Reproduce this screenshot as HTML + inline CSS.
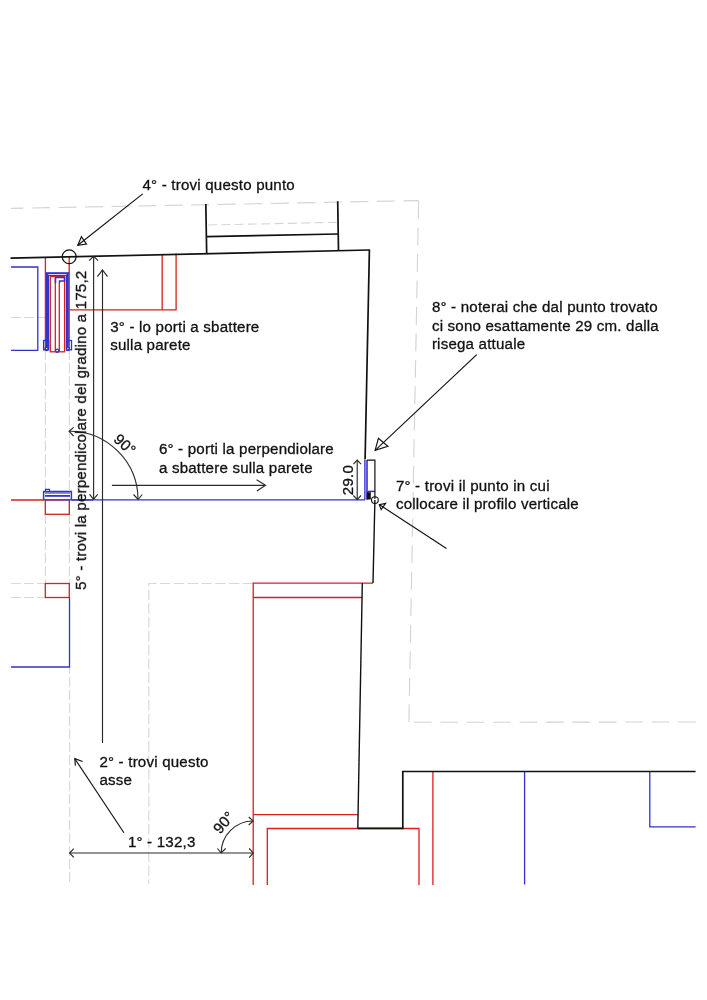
<!DOCTYPE html>
<html><head><meta charset="utf-8">
<style>
html,body{margin:0;padding:0;background:#fff;}
svg{display:block;}
text{font-family:"Liberation Sans",sans-serif;font-size:15.1px;letter-spacing:0.2px;fill:#111;stroke:#111;stroke-width:0.3px;}
</style></head>
<body>
<svg width="707" height="1000" viewBox="0 0 707 1000">
<rect width="707" height="1000" fill="#fff"/>
<!-- gray dashed -->
<g fill="none" stroke="#d3d3d3" stroke-width="1.1">
  <line x1="11" y1="208.4" x2="418.6" y2="200.6" stroke-dasharray="18 8.55" stroke-dashoffset="5.7"/>
  <line x1="408.9" y1="722.3" x2="418.6" y2="200.6" stroke-dasharray="18 8.5"/>
  <line x1="695.6" y1="722" x2="408.9" y2="722.3" stroke-dasharray="17.6 8.8"/>
  <line x1="207" y1="225" x2="338" y2="222.3" stroke-dasharray="9 4.3" stroke-dashoffset="12.3" stroke="#d6d6d6"/>
</g>
<g fill="none" stroke="#d8d8d8" stroke-width="1.1" stroke-dasharray="10 3">
  <line x1="11" y1="317.5" x2="45" y2="317.5"/>
  <line x1="45.4" y1="350" x2="45.4" y2="491"/>
  <line x1="69.4" y1="350" x2="69.4" y2="491"/>
  <line x1="45.4" y1="514" x2="45.4" y2="583.5"/>
  <line x1="69.4" y1="514" x2="69.4" y2="583.5"/>
  <line x1="11" y1="583.5" x2="45.4" y2="583.5"/>
  <line x1="11" y1="597.5" x2="45.4" y2="597.5"/>
  <line x1="69.6" y1="667" x2="69.6" y2="884" stroke-dashoffset="3"/>
  <polyline points="253.2,583.5 148.8,583.5 148.8,884" stroke-dasharray="10.5 3.3"/>
</g>
<!-- red -->
<g fill="none" stroke="#d61f1f" stroke-width="1.3">
  <line x1="45.4" y1="257.2" x2="45.4" y2="350"/>
  <line x1="69.2" y1="256.7" x2="69.2" y2="350"/>
  <polyline points="69.2,309.9 176.1,309.9 176.1,253.6"/>
  <line x1="162.2" y1="254" x2="162.2" y2="309.9"/>
  <rect x="50.3" y="276.5" width="14.3" height="75.3"/>
  <line x1="55.3" y1="278" x2="55.3" y2="351.5"/>
  <line x1="59.3" y1="283" x2="59.3" y2="351.5"/>
  <line x1="11" y1="500" x2="44" y2="500"/>
  <rect x="45.3" y="500" width="24" height="14.3"/>
  <rect x="45.3" y="583.5" width="24" height="14"/>
  <polyline points="253.2,885 253.2,583.2 373,583.2"/>
  <polyline points="253.2,597.5 362.2,597.5"/>
  <polyline points="253.2,814.6 358,814.6"/>
  <polyline points="267.3,885 267.3,828.5 419,828.5 419,885"/>
  <line x1="432.9" y1="771.2" x2="432.9" y2="885"/>
</g>
<!-- blue -->
<g fill="none" stroke="#3232cc" stroke-width="1.3">
  <polyline points="11,267 37.8,267 37.8,350.3 11,350.3"/>
  <line x1="44" y1="499.8" x2="365" y2="499.8"/>
  <polyline points="69.5,597.5 69.5,667 11,667"/>
  <line x1="524.6" y1="771.2" x2="524.6" y2="884.5"/>
  <polyline points="649.8,771.2 649.8,826.8 695.6,826.8"/>
  <!-- window -->
  <line x1="47.2" y1="273" x2="47.2" y2="348" stroke-width="2.4"/>
  <line x1="67.6" y1="273" x2="67.6" y2="348" stroke-width="2.4"/>
  <line x1="46" y1="273.2" x2="69" y2="273.2" stroke-width="2"/>
  <polyline points="48.5,348 48.5,275.5 66.5,275.5 66.5,348" stroke-width="1.2"/>
  <polyline points="55.5,283 55.5,277.5 64.5,277.5 64.5,281 59.5,281 59.5,283" stroke-width="1.5"/>
  <rect x="43.6" y="340.5" width="5" height="9.3" stroke-width="1.3"/>
  <rect x="66.5" y="340.5" width="5" height="9.3" stroke-width="1.3"/>
  <circle cx="46.5" cy="349" r="1.6" stroke-width="1.2"/>
  <circle cx="57.2" cy="350.8" r="1.6" stroke-width="1.2"/>
  <circle cx="68" cy="349" r="1.6" stroke-width="1.2"/>
  <!-- small left element -->
  <polyline points="43.6,500 43.6,491.5 71.4,491.5 71.4,500" stroke-width="1.5"/>
  <line x1="45" y1="493" x2="70" y2="493" stroke-width="1.1"/>
  <line x1="45" y1="495.9" x2="70" y2="495.9" stroke-width="1.8"/>
  <polyline points="45.5,491.5 45.5,489.3 49.5,489.3 49.5,491.5" stroke-width="1.2"/>
  <line x1="71.4" y1="500" x2="93" y2="500"/>
  <!-- profile element -->
  <line x1="364.9" y1="460" x2="364.9" y2="499.8" stroke-width="1.4"/>
  <line x1="367" y1="460" x2="367" y2="499.8" stroke-width="1.6"/>
  <line x1="367.5" y1="491.4" x2="375" y2="491.4" stroke-width="1.5"/>
</g>
<!-- black walls -->
<g fill="none" stroke="#111" stroke-width="1.7">
  <line x1="10.5" y1="258.2" x2="369.4" y2="250"/>
  <polyline points="369.4,249.6 365.1,459.5"/>
  <line x1="205.8" y1="204" x2="206.7" y2="254"/>
  <line x1="337.7" y1="201.2" x2="338.5" y2="250.5"/>
  <line x1="206.5" y1="236.7" x2="338" y2="234"/>
  <polyline points="357.8,828.4 402.8,828.4 402.8,771.5 695.6,771.5"/>
</g>
<g fill="none" stroke="#111" stroke-width="1.4">
  <line x1="374.9" y1="500" x2="373" y2="583"/>
  <line x1="362.3" y1="583" x2="357.8" y2="828.4"/>
</g>
<g fill="none" stroke="#111" stroke-width="1.2">
  <polyline points="367,460.2 374.9,460.2 374.9,499"/>
</g>
<rect x="366.8" y="492.2" width="4" height="7.3" fill="#111"/>
<!-- circles -->
<circle cx="69.2" cy="256.7" r="6.9" fill="none" stroke="#111" stroke-width="1.2"/>
<circle cx="374.9" cy="500.1" r="3.4" fill="none" stroke="#111" stroke-width="1.1"/>
<!-- arrows with open triangle heads -->
<g fill="none" stroke="#111" stroke-width="1.15" stroke-linejoin="miter">
  <line x1="142.7" y1="193.9" x2="77.8" y2="245.3"/>
  <polygon points="77.8,245.3 81.4,236.7 86.5,244.1"/>
  <line x1="476.7" y1="354.7" x2="375.1" y2="450.3"/>
  <polygon points="375.1,450.3 378.4,438.3 387.9,446.3"/>
  <line x1="446.5" y1="548.6" x2="379.3" y2="504.6"/>
  <polygon points="379.3,504.6 381.2,509.6 385.6,503.4"/>
  <line x1="123.9" y1="832.8" x2="74.8" y2="758.7"/>
  <polyline points="75.4,765.6 74.8,758.7 82.6,761.5"/>
</g>
<!-- dimension arrows (V heads) -->
<g fill="none" stroke="#2a2a2a" stroke-width="1.15">
  <line x1="102.5" y1="270" x2="102.5" y2="743"/>
  <line x1="93.6" y1="256.5" x2="93.6" y2="499.3"/>
  <polyline points="89.1,260.7 93.6,256.4 98.1,260.7"/>
  <polyline points="89.6,494.3 93.6,499.3 97.6,494.3"/>
  <polyline points="97.4,276.7 102.5,269.9 107.5,276.7"/>
  <!-- 6° arrow -->
  <line x1="111.9" y1="485.3" x2="265" y2="485.3"/>
  <polyline points="256.6,479.7 265.5,485.3 256.9,490.9"/>
  <!-- arc 90 top -->
  <path d="M69.5,431.2 A68.5,68.5 0 0 1 138,499.5"/>
  <polyline points="73.6,427.4 69.1,431.3 73.6,436"/>
  <polyline points="133.5,494.5 138.1,499.5 142.3,494.5"/>
  <!-- 29.0 dim -->
  <line x1="357.2" y1="460" x2="357.2" y2="499.7"/>
  <polyline points="353.4,464.2 357.2,460 361,464.2"/>
  <polyline points="353.4,495.5 357.2,499.7 361,495.5"/>
  <!-- 132,3 dim -->
  <line x1="69.7" y1="853" x2="253" y2="853"/>
  <polyline points="73.8,848.6 69.6,853 73.8,857.4"/>
  <polyline points="249.2,848.3 253.2,853 249.2,857.6"/>
  <path d="M221.2,853 A32,32 0 0 1 253.2,821"/>
  <polyline points="217.4,848.5 221.2,853 225.6,848.5"/>
  <polyline points="248.7,817 253.2,821 248.7,825"/>
</g>
<!-- texts -->
<g opacity="0.999">
<text x="142.5" y="190.4">4° - trovi questo punto</text>
<text x="110.2" y="331.8">3° - lo porti a sbattere</text>
<text x="110.2" y="350.4">sulla parete</text>
<text x="431.9" y="312.3">8° - noterai che dal punto trovato</text>
<text x="431.9" y="330.8">ci sono esattamente 29 cm. dalla</text>
<text x="431.9" y="348.8">risega attuale</text>
<text x="158.9" y="453.8">6° - porti la perpendiolare</text>
<text x="158.9" y="472.5">a sbattere sulla parete</text>
<text x="395.9" y="490.5">7° - trovi il punto in cui</text>
<text x="395.9" y="508.6">collocare il profilo verticale</text>
<text x="99.4" y="766.5">2° - trovi questo</text>
<text x="99.4" y="784.8">asse</text>
<text x="127.9" y="846.8">1° - 132,3</text>
<text transform="translate(86,589.9) rotate(-90)">5° - trovi la perpendicolare del gradino a 175,2</text>
<text transform="translate(353.3,495.2) rotate(-90)">29.0</text>
<text transform="translate(112.7,440.5) rotate(42)">90°</text>
<text transform="translate(219.9,834.8) rotate(-49)">90°</text>
</g>
</svg>
</body></html>
